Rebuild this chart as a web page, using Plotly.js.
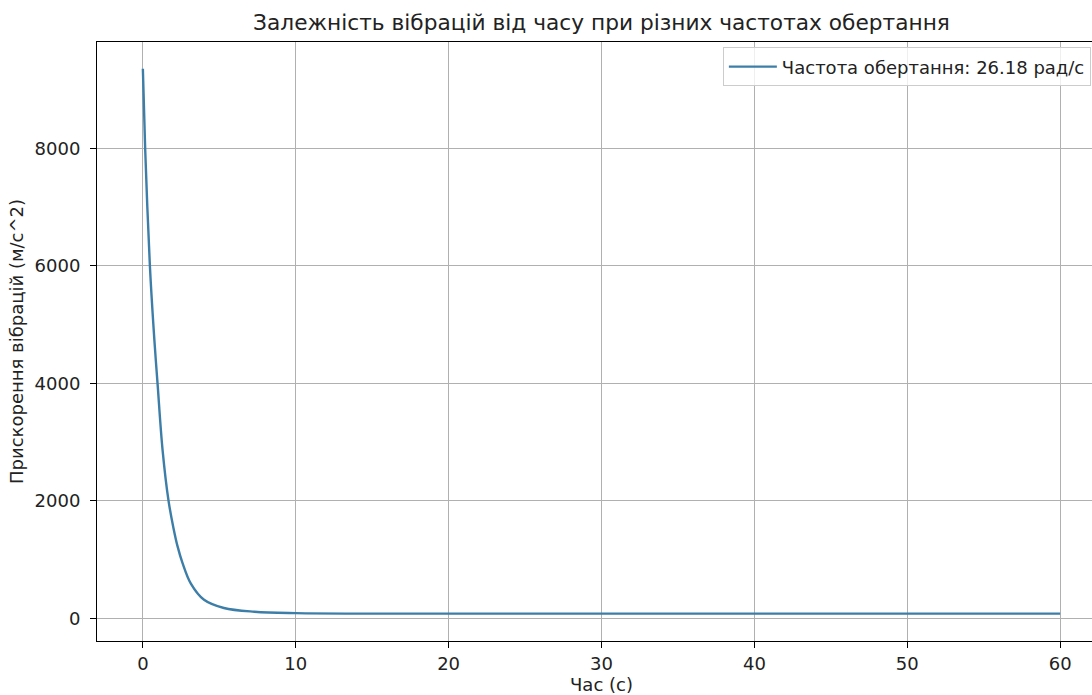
<!DOCTYPE html>
<html>
<head>
<meta charset="utf-8">
<script src="https://cdn.plot.ly/plotly-3.0.1.min.js"></script>
<style>
  html, body { margin: 0; padding: 0; overflow: hidden; background: #fff; }
  #chart { width: 1130px; height: 695px; }
</style>
</head>
<body>
<div id="chart"></div>
<script>
// Time samples (s) and vibration acceleration (m/s^2) at 26.18 rad/s
const timeS = [0, 0.15, 0.46, 0.75, 0.96, 1.29, 1.68, 2.0, 2.27, 2.59, 3.14, 4, 5.3, 7.3, 10, 15, 20, 30, 40, 50, 60];
const accel = [9360, 8000, 6000, 4750, 4000, 2866, 2000, 1540, 1225, 945, 590, 315, 176, 112, 88, 80, 80, 80, 80, 80, 80];
const seriesName = 'Частота обертання: 26.18 рад/с';

const chartTitle = 'Залежність вібрацій від часу при різних частотах обертання';
const xTitle = 'Час (с)';
const yTitle = 'Прискорення вібрацій (м/с^2)';
const xTicks = [0, 10, 20, 30, 40, 50, 60];
const yTicks = [0, 2000, 4000, 6000, 8000];

const font = 'DejaVu Sans, sans-serif';

const trace = {
  x: timeS,
  y: accel,
  type: 'scatter',
  mode: 'lines',
  name: seriesName,
  line: { color: '#3d7ea8', width: 2.4, shape: 'spline', smoothing: 1 }
};

const axisCommon = {
  showline: true,
  mirror: true,
  linecolor: '#000',
  linewidth: 1,
  ticks: 'outside',
  ticklen: 6,
  tickwidth: 1,
  tickcolor: '#000',
  showgrid: true,
  gridcolor: '#b0b0b0',
  gridwidth: 1,
  zeroline: false,
  tickfont: { family: font, size: 18, color: '#222' }
};

const layout = {
  width: 1130,
  height: 695,
  paper_bgcolor: '#fff',
  plot_bgcolor: '#fff',
  margin: { l: 97, r: 24, t: 42, b: 54 },
  title: {
    text: chartTitle,
    font: { family: font, size: 21.7, color: '#222' },
    xref: 'paper', x: 0.5, xanchor: 'center',
    yref: 'container', y: 1 - 22 / 695, yanchor: 'middle'
  },
  xaxis: Object.assign({}, axisCommon, {
    range: [-3, 63],
    tickvals: xTicks,
    ticktext: xTicks.map(String),
    title: { text: xTitle, font: { family: font, size: 18, color: '#222' }, standoff: 6 }
  }),
  yaxis: Object.assign({}, axisCommon, {
    range: [-386, 9814],
    tickvals: yTicks,
    ticktext: yTicks.map(String),
    ticklabelstandoff: 6,
    title: { text: yTitle, font: { family: font, size: 18, color: '#222' }, standoff: 6 }
  }),
  showlegend: true,
  legend: {
    x: 0.985, xanchor: 'right',
    y: 0.991, yanchor: 'top',
    itemwidth: 48,
    bgcolor: 'rgba(255,255,255,0.8)',
    bordercolor: '#cccccc',
    borderwidth: 1,
    font: { family: font, size: 18, color: '#222' }
  }
};

Plotly.newPlot('chart', [trace], layout, { displayModeBar: false, staticPlot: true });
</script>
</body>
</html>
